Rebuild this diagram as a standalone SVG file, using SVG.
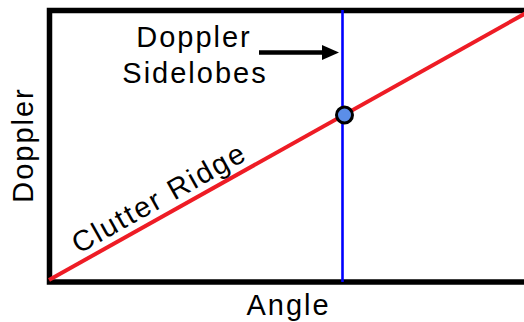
<svg xmlns="http://www.w3.org/2000/svg" width="524" height="322" viewBox="0 0 524 322">
<style>
text{font-family:"Liberation Sans",Arial,sans-serif;font-size:29px;fill:#000;letter-spacing:2px}
</style>
<rect width="524" height="322" fill="#fff"/>
<g id="frame"><rect x="49.5" y="10.5" width="500" height="271.5" fill="none" stroke="#000" stroke-width="5.5"/></g>
<g id="connectors">
<line x1="342.5" y1="10" x2="342.5" y2="282" stroke="#0000ff" stroke-width="2.6"/>
<line x1="49" y1="280" x2="526" y2="13" stroke="#ee1c25" stroke-width="4"/>
<line x1="259" y1="52.5" x2="325" y2="52.5" stroke="#000" stroke-width="4.5"/>
<polygon points="322,45 339,52.5 322,60" fill="#000"/>
</g>
<g id="point"><circle cx="344.5" cy="115" r="8" fill="#5b8ee8" stroke="#000" stroke-width="3"/></g>
<g id="label-sidelobes">
<text x="194" y="47" text-anchor="middle">Doppler</text>
<text x="195" y="83" text-anchor="middle">Sidelobes</text>
</g>
<g id="label-clutter"><text transform="translate(166,214.4) rotate(-29.25)" x="2" y="-8" text-anchor="middle">Clutter Ridge</text></g>
<g id="axis-x"><text x="288.5" y="315" text-anchor="middle">Angle</text></g>
<g id="axis-y"><text transform="translate(33,146) rotate(-90)" x="1" y="0" text-anchor="middle">Doppler</text></g>
</svg>
